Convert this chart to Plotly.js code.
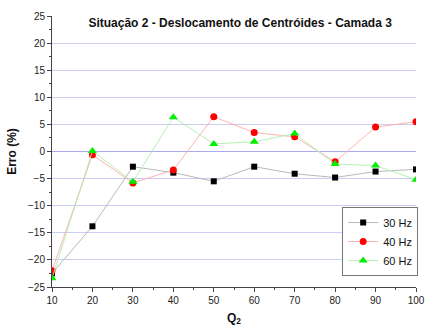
<!DOCTYPE html>
<html><head><meta charset="utf-8">
<script src="https://cdn.plot.ly/plotly-3.0.1.min.js"></script>
<style>html,body{margin:0;padding:0;background:#fff}#chart{width:425px;height:331px}</style>
</head><body><div id="chart"></div>
<script>
const q2 = [10, 20, 30, 40, 50, 60, 70, 80, 90, 100];
const hz30 = [-22.5, -13.8, -2.8, -3.9, -5.5, -2.8, -4.1, -4.8, -3.7, -3.3];
const hz40 = [-22.0, -0.6, -5.8, -3.4, 6.4, 3.5, 2.7, -1.9, 4.5, 5.5];
const hz60 = [-23.4, 0.1, -5.6, 6.3, 1.4, 1.8, 3.3, -2.3, -2.6, -5.2];
const names = ['30 Hz', '40 Hz', '60 Hz'];
const yTicks = [-25, -20, -15, -10, -5, 0, 5, 10, 15, 20, 25];
const xTicks = [10, 20, 30, 40, 50, 60, 70, 80, 90, 100];

const mk = (y, name, lc, mc, sym, size) => ({
  x: q2, y: y, name: name, type: 'scatter', mode: 'lines+markers',
  line: {color: lc, width: 0.9},
  marker: {color: mc, symbol: sym, size: size}
});
const data = [
  mk(hz30, names[0], '#b0b0b0', '#000000', 'square', 6),
  mk(hz40, names[1], '#ffaaaa', '#ff0000', 'circle', 7),
  mk(hz60, names[2], '#aaf0aa', '#00ee00', 'triangle-up', 8)
];
const layout = {
  width: 425, height: 331,
  margin: {l: 52, r: 8, t: 16, b: 44},
  paper_bgcolor: '#fff', plot_bgcolor: '#fff',
  font: {family: 'Arial, Liberation Sans, sans-serif', color: '#222', size: 10},
  title: {text: '<b>Situação 2 - Deslocamento de Centróides - Camada 3</b>',
          font: {size: 12, color: '#111'}, x: 0.565, xanchor: 'center', y: 0.93, yanchor: 'middle'},
  xaxis: {range: [10, 100], tickvals: xTicks, ticks: 'outside', ticklen: 4, tickcolor: '#444',
          showline: true, linecolor: '#444', linewidth: 1, showgrid: false, zeroline: false,
          minor: {dtick: 5, ticks: 'outside', ticklen: 2, tickcolor: '#444'},
          title: {text: '<b>Q<sub>2</sub></b>', font: {size: 12, color: '#111'}, standoff: 8}},
  yaxis: {range: [-25, 25], tickvals: yTicks, ticks: 'outside', ticklen: 4, tickcolor: '#444',
          showline: true, linecolor: '#444', linewidth: 1, showgrid: true, gridcolor: '#ccccf4',
          gridwidth: 1, zeroline: true, zerolinecolor: '#aaaaee', zerolinewidth: 1.5,
          minor: {dtick: 2.5, ticks: 'outside', ticklen: 2, tickcolor: '#444'},
          title: {text: '<b>Erro (%)</b>', font: {size: 12, color: '#111'}, standoff: 8}},
  showlegend: true,
  legend: {x: 0.795, y: 0.295, xanchor: 'left', yanchor: 'top', bordercolor: '#777', borderwidth: 1,
           bgcolor: '#fff', font: {size: 11, color: '#111'}, tracegroupgap: 0, itemwidth: 30}
};
Plotly.newPlot('chart', data, layout, {displayModeBar: false, staticPlot: true});
</script></body></html>
